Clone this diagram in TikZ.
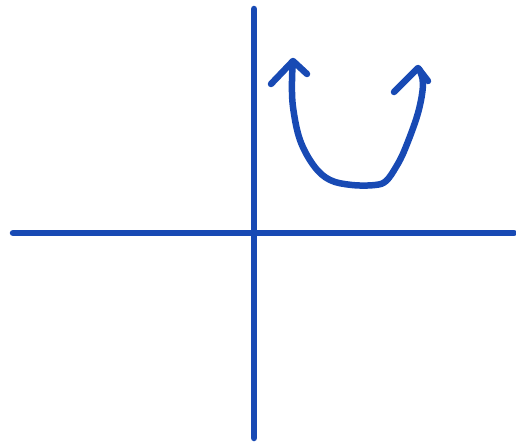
\documentclass[tikz,border=0pt]{standalone}
\definecolor{pen}{RGB}{24,74,180}
\begin{document}
\begin{tikzpicture}[x=1pt,y=-1pt,
  stroke/.style={draw=pen,line width=6.5pt,line cap=round,line join=round}]
\useasboundingbox (0,0) rectangle (516,444);
\coordinate (vt) at (254,9);
\coordinate (vb) at (254,438);
\coordinate (hl) at (13,233);
\coordinate (hr) at (514,233);
\draw[stroke] (vt) -- (vb);
\draw[stroke] (hl) -- (hr);
% U curve
\draw[stroke] plot[smooth,tension=0.6] coordinates {(293,62) (292,80) (293,107) (300,140) (314,166) (330,180) (352,185) (375,185) (386,181) (396,167) (405,149) (418,113) (423,84) (419,69)};
% arrowheads
\draw[stroke] (271,84) -- (293,61) -- (307,74);
\draw[stroke] (394,92) -- (418,68) -- (428,81);
\end{tikzpicture}
\end{document}
